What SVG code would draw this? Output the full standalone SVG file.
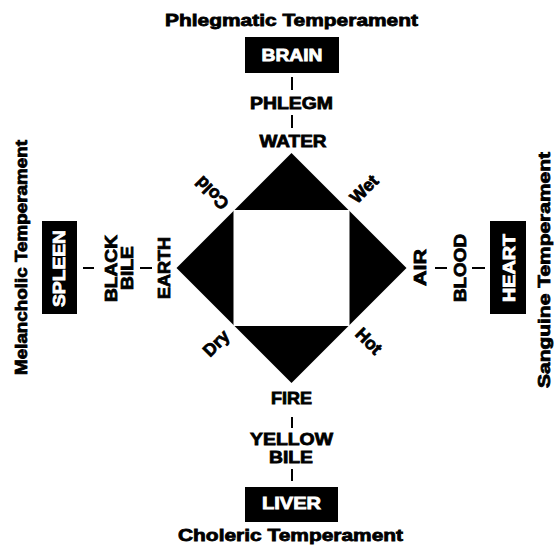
<svg xmlns="http://www.w3.org/2000/svg" width="554" height="547" viewBox="0 0 554 547">
<style>
text{font-family:"Liberation Sans",Arial,sans-serif;font-weight:bold;font-size:17px;fill:#000;stroke:#000;stroke-width:0.8;text-anchor:middle}
text.w{fill:#fff;stroke:#fff}
text.d{font-size:17.5px}
.box{fill:#000}
.ln{stroke:#000;stroke-width:2;fill:none}
</style>
<rect width="554" height="547" fill="#fff"/>
<g id="diagram">
  <polygon points="291.5,153 406.5,268 291.5,383 176.5,268" fill="#000"/>
  <rect x="233.5" y="210" width="116" height="116" fill="#fff"/>
</g>
<g id="qualities">
  <text class="d" transform="translate(212,193) rotate(225)" dy="0.35em">Cold</text>
  <text class="d" transform="translate(364,189) rotate(-45)" dy="0.35em">Wet</text>
  <text class="d" transform="translate(369,341) rotate(45)" dy="0.35em">Hot</text>
  <text class="d" transform="translate(216,343) rotate(-45)" dy="0.35em">Dry</text>
</g>
<g id="connectors">
  <line class="ln" x1="292" y1="77" x2="292" y2="90"/>
  <line class="ln" x1="292" y1="115" x2="292" y2="128"/>
  <line class="ln" x1="292" y1="417" x2="292" y2="428"/>
  <line class="ln" x1="292" y1="469" x2="292" y2="481"/>
  <line class="ln" x1="83" y1="268" x2="94" y2="268"/>
  <line class="ln" x1="140" y1="268" x2="152" y2="268"/>
  <line class="ln" x1="435" y1="268" x2="447" y2="268"/>
  <line class="ln" x1="472" y1="268" x2="485" y2="268"/>
</g>
<g id="top">
  <text x="291.5" y="26" textLength="253" lengthAdjust="spacingAndGlyphs">Phlegmatic Temperament</text>
  <g id="brain"><rect class="box" x="245" y="37" width="94" height="36"/><text class="w" x="292" y="61" textLength="61" lengthAdjust="spacingAndGlyphs">BRAIN</text></g>
  <text x="291.5" y="109" textLength="83" lengthAdjust="spacingAndGlyphs">PHLEGM</text>
  <text x="293" y="147" textLength="67" lengthAdjust="spacingAndGlyphs">WATER</text>
</g>
<g id="bottom">
  <text x="291.5" y="404" textLength="41" lengthAdjust="spacingAndGlyphs">FIRE</text>
  <text x="291.5" y="444.5" textLength="83" lengthAdjust="spacingAndGlyphs">YELLOW</text>
  <text x="291" y="462.5" textLength="44" lengthAdjust="spacingAndGlyphs">BILE</text>
  <g id="liver"><rect class="box" x="245" y="487" width="93" height="35"/><text class="w" x="291.5" y="509" textLength="59" lengthAdjust="spacingAndGlyphs">LIVER</text></g>
  <text x="290.5" y="541" textLength="225" lengthAdjust="spacingAndGlyphs">Choleric Temperament</text>
</g>
<g id="left">
  <text transform="translate(27,257.5) rotate(-90)" textLength="235" lengthAdjust="spacingAndGlyphs">Melancholic Temperament</text>
  <g id="spleen"><rect class="box" x="42" y="221" width="35" height="93"/><text class="w" transform="translate(65,268.5) rotate(-90)" textLength="77" lengthAdjust="spacingAndGlyphs">SPLEEN</text></g>
  <text transform="translate(117,268.5) rotate(-90)" textLength="67" lengthAdjust="spacingAndGlyphs">BLACK</text>
  <text transform="translate(133,268) rotate(-90)" textLength="44" lengthAdjust="spacingAndGlyphs">BILE</text>
  <text transform="translate(170,268) rotate(-90)" textLength="62" lengthAdjust="spacingAndGlyphs">EARTH</text>
</g>
<g id="right">
  <text transform="translate(426,267.5) rotate(-90)" textLength="37" lengthAdjust="spacingAndGlyphs">AIR</text>
  <text transform="translate(466,268) rotate(-90)" textLength="68" lengthAdjust="spacingAndGlyphs">BLOOD</text>
  <g id="heart"><rect class="box" x="490" y="221" width="36" height="93"/><text class="w" transform="translate(515,268) rotate(-90)" textLength="68" lengthAdjust="spacingAndGlyphs">HEART</text></g>
  <text transform="translate(550,270) rotate(-90)" textLength="236" lengthAdjust="spacingAndGlyphs">Sanguine Temperament</text>
</g>
</svg>
